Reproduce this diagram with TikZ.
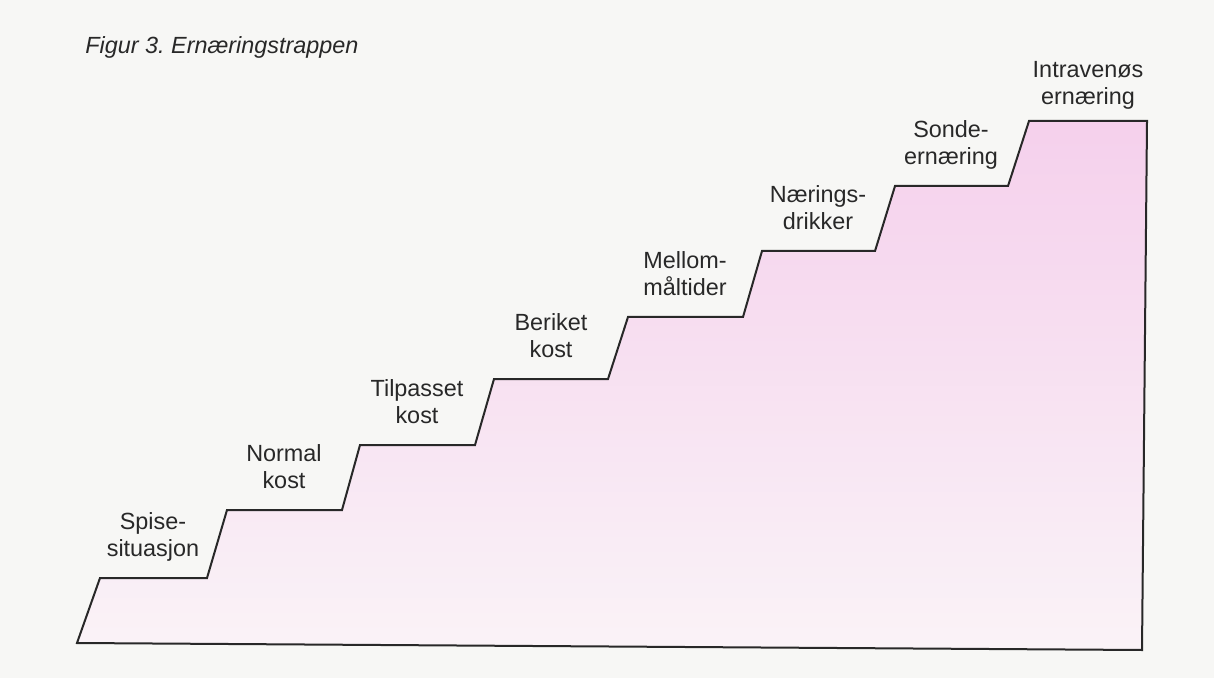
\documentclass[tikz,border=0pt]{standalone}
\usepackage{fontspec}
\setmainfont{Liberation Sans}
\usetikzlibrary{positioning}
\frenchspacing

\definecolor{paper}{RGB}{247,247,245}
\definecolor{stairtop}{RGB}{245,208,236}
\definecolor{stairbot}{RGB}{250,243,247}
\definecolor{ink}{RGB}{40,40,40}

\begin{document}
\begin{tikzpicture}[x=0.5pt, y=-0.5pt, node distance=8pt,
    steplabel/.style={align=center, inner sep=0pt, text depth=0.25em,
      font=\fontsize{11.7}{13.6}\selectfont, text=ink}]
  \fill[paper] (0,0) rectangle (1214,678);
  \useasboundingbox (0,0) rectangle (1214,678);

  % the staircase
  \draw[ink, line width=1pt, top color=stairtop, bottom color=stairbot]
    (77,643) -- (100,578) -- (207,578) -- (227,510) -- (342,510)
    -- (360,445) -- (475,445) -- (494,379) -- (608,379)
    -- (628,317) -- (743,317) -- (762,251) -- (875,251)
    -- (895,186) -- (1008,186) -- (1029,121) -- (1147,121)
    -- (1142,650) -- cycle;

  % middle of each tread
  \coordinate (t1) at (153,578);
  \coordinate (t2) at (284,510);
  \coordinate (t3) at (417,445);
  \coordinate (t4) at (551,379);
  \coordinate (t5) at (685,317);
  \coordinate (t6) at (818,251);
  \coordinate (t7) at (951,186);
  \coordinate (t8) at (1088,121);

  \node[steplabel] [above=of t1] (spise) {Spise-\\situasjon};
  \node[steplabel] [above=of t2] (normal) {Normal\\kost};
  \node[steplabel] [above=of t3] (tilpasset) {Tilpasset\\kost};
  \node[steplabel] [above=of t4] (beriket) {Beriket\\kost};
  \node[steplabel] [above=of t5] (mellom) {Mellom-\\måltider};
  \node[steplabel] [above=of t6] (drikker) {Nærings-\\drikker};
  \node[steplabel] [above=of t7] (sonde) {Sonde-\\ernæring};
  \node[steplabel] [above=5.5pt of t8] (intravenos) {Intravenøs\\ernæring};

  \node[anchor=west, inner sep=0pt, text=ink,
    font=\fontsize{11.7}{13.6}\selectfont\itshape] (title) at (85,47)
    {Figur 3. Ernæringstrappen};
\end{tikzpicture}
\end{document}
